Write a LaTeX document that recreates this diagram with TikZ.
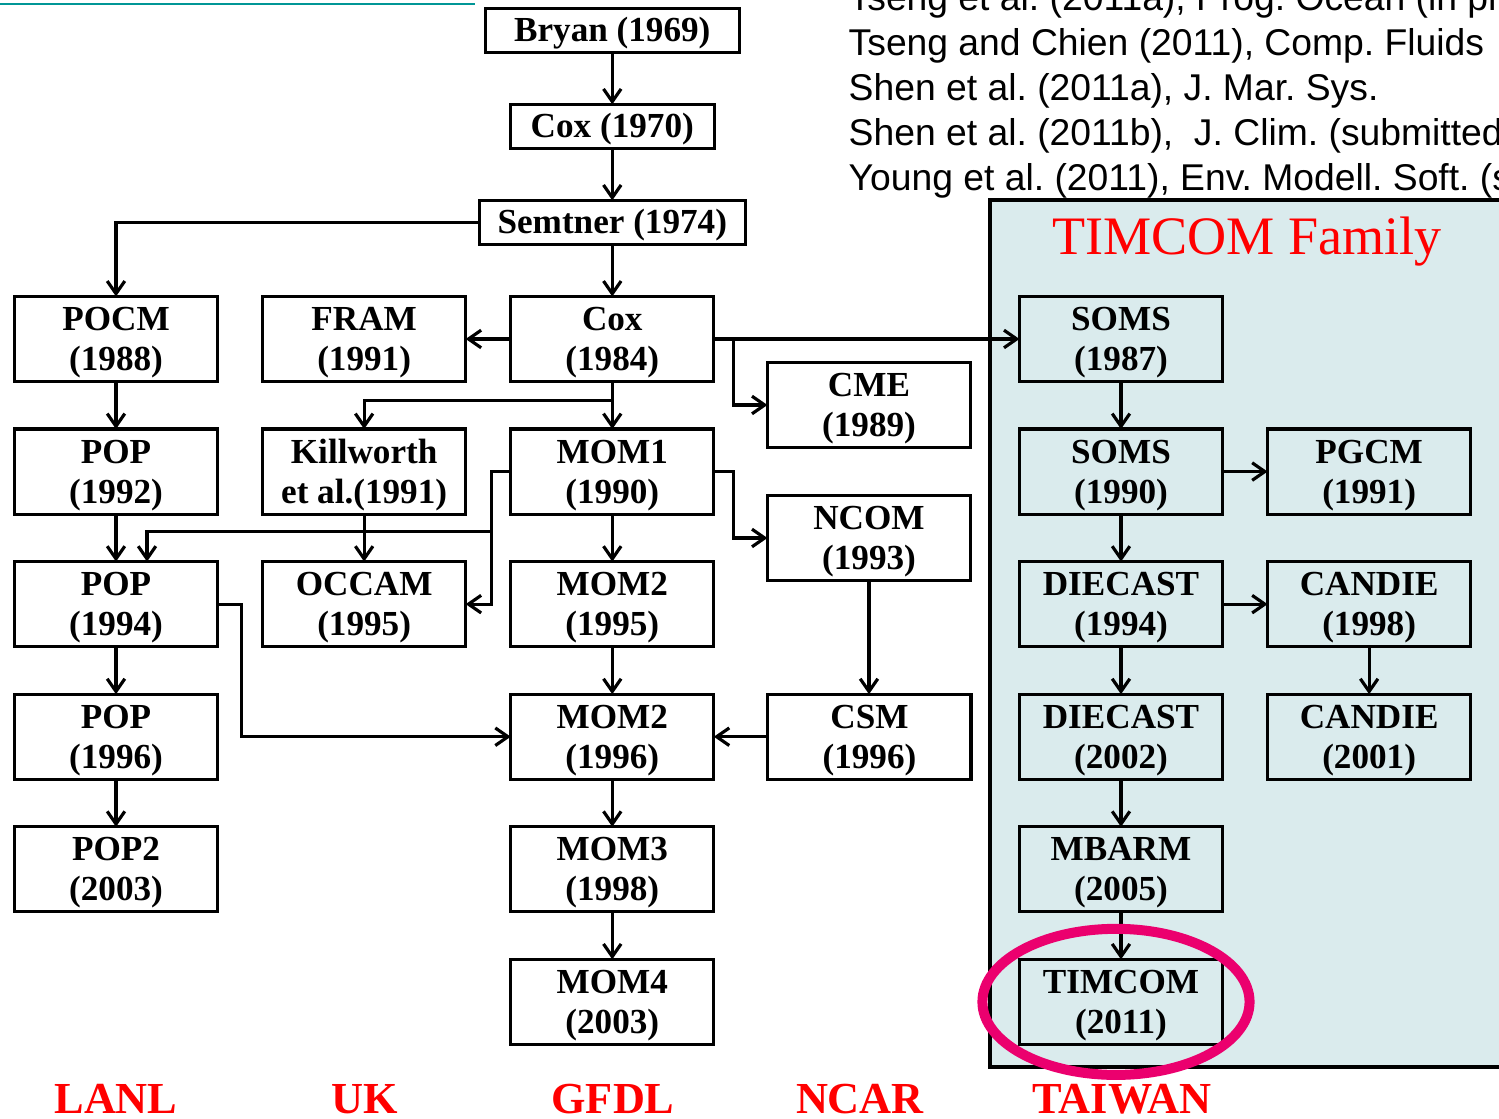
\documentclass[tikz,border=0pt]{standalone}
\usepackage{fontspec}
\setmainfont{Liberation Serif}
\newfontfamily\refsfont{Liberation Sans}
\usepackage{xcolor}
\usetikzlibrary{positioning, arrows.meta, calc}
\definecolor{timbg}{RGB}{218,235,237}
\definecolor{ringcol}{RGB}{235,0,110}
\definecolor{rulecol}{RGB}{0,150,150}
\frenchspacing

\begin{document}
\begin{tikzpicture}[
    x=0.01cm, y=-0.01cm,
    node distance=0.475cm and 0.45cm,
    box/.style={rectangle, draw, line width=0.9pt, outer sep=0pt, minimum width=2.03cm, minimum height=0.85cm, inner sep=0pt, text depth=-2.7pt, align=center, font=\bfseries\fontsize{10}{11.4}\selectfont},
    flat/.style={box, minimum height=0.44cm, text depth=0.4pt},
    arr/.style={-{Straight Barb[length=3.6pt, width=5pt]}, line width=0.9pt},
    region/.style={anchor=base, text=red, font=\bfseries\fontsize{12.6}{14}\selectfont},
    refline/.style={anchor=base west, inner sep=0pt, font=\refsfont\fontsize{10.6}{12.8}\selectfont}
]
    \clip (0,0) rectangle (1499,1119);
    \useasboundingbox (0,0) rectangle (1499,1119);

    % background panel
    \filldraw[fill=timbg, draw=black, line width=0.9pt] (990,200) rectangle (1530,1067);
    \node[anchor=base, text=red, font=\fontsize{15.4}{17}\selectfont] (family) at (1247,255) {TIMCOM Family};
    \draw[rulecol, line width=0.6pt] (0,4) -- (475,4);

    % references
    \node[refline] (ref1) at (848,11) {Tseng et al. (2011a), Prog. Ocean (in press)};
    \node[refline] (ref2) at (848,56) {Tseng and Chien (2011), Comp. Fluids};
    \node[refline] (ref3) at (848,101) {Shen et al. (2011a), J. Mar. Sys.};
    \node[refline] (ref4) at (848,146) {Shen et al. (2011b),\ \ J. Clim. (submitted)};
    \node[refline] (ref5) at (848,191) {Young et al. (2011), Env. Modell. Soft. (submitted)};

    % LANL
    \node[box] (pocm) at (116,339) {POCM\\(1988)};
    \node[box, below=of pocm] (pop92) {POP\\(1992)};
    \node[box, below=of pop92] (pop94) {POP\\(1994)};
    \node[box, below=of pop94] (pop96) {POP\\(1996)};
    \node[box, below=of pop96] (pop03) {POP2\\(2003)};

    % UK
    \node[box, right=of pocm] (fram) {FRAM\\(1991)};
    \node[box, below=of fram] (killworth) {Killworth\\et al.(1991)};
    \node[box, below=of killworth] (occam) {OCCAM\\(1995)};

    % GFDL
    \node[box, right=of fram] (cox84) {Cox\\(1984)};
    \node[flat, minimum width=2.66cm, above=0.52cm of cox84] (semtner) {Semtner (1974)};
    \node[flat, minimum width=2.04cm, above=0.52cm of semtner] (cox70) {Cox (1970)};
    \node[flat, minimum width=2.54cm, above=0.52cm of cox70] (bryan) {Bryan (1969)};
    \node[box, below=of cox84] (mom1) {MOM1\\(1990)};
    \node[box, below=of mom1] (mom2a) {MOM2\\(1995)};
    \node[box, below=of mom2a] (mom2b) {MOM2\\(1996)};
    \node[box, below=of mom2b] (mom3) {MOM3\\(1998)};
    \node[box, below=of mom3] (mom4) {MOM4\\(2003)};

    % NCAR
    \node[box] (cme) at (869,405) {CME\\(1989)};
    \node[box] (ncom) at (869,538) {NCOM\\(1993)};
    \node[box, right=0.54cm of mom2b] (csm) {CSM\\(1996)};

    % TAIWAN
    \node[box] (soms87) at (1121,339) {SOMS\\(1987)};
    \node[box, below=of soms87] (soms90) {SOMS\\(1990)};
    \node[box, below=of soms90] (die94) {DIECAST\\(1994)};
    \node[box, below=of die94] (die02) {DIECAST\\(2002)};
    \node[box, below=of die02] (mbarm) {MBARM\\(2005)};
    \node[box, below=of mbarm] (timcom) {TIMCOM\\(2011)};
    \node[box, right=of soms90] (pgcm) {PGCM\\(1991)};
    \node[box, right=of die94] (candie98) {CANDIE\\(1998)};
    \node[box, right=of die02] (candie01) {CANDIE\\(2001)};

    % group labels
    \node[region] (lanl) at (116,1114) {LANL};
    \node[region] (uk) at (365,1114) {UK};
    \node[region] (gfdl) at (613,1114) {GFDL};
    \node[region] (ncar) at (860,1114) {NCAR};
    \node[region] (taiwan) at (1122,1114) {TAIWAN};

    % connectors
    \draw[arr] (bryan) -- (cox70);
    \draw[arr] (cox70) -- (semtner);
    \draw[arr] (semtner) -- (cox84);
    \draw[arr] (semtner.west) -| (pocm.north);
    \draw[arr] (cox84) -- (fram);
    \draw[arr] (cox84) -- (soms87);
    \coordinate[right=0.2cm of cox84.east] (tap1);
    \draw[arr] (tap1) |- (cme.west);
    \draw[arr] (cox84) -- (mom1);
    \coordinate[below=0.19cm of cox84.south] (tap2);
    \draw[arr] (tap2) -| (killworth.north);
    \draw[arr] (mom1.east) -- ++(0.2cm,0) |- (ncom.west);
    \coordinate[left=0.19cm of mom1.west] (tap3);
    \draw[arr] (mom1.west) -- (tap3) |- (occam.east);
    \draw[arr] ($(tap3 |- occam.north)+(0,0.3cm)$) -| ($(pop94.north)+(0.31cm,0)$);
    \draw[arr] (killworth) -- (occam);
    \draw[arr] (pocm) -- (pop92);
    \draw[arr] (pop92) -- (pop94);
    \draw[arr] (pop94) -- (pop96);
    \draw[arr] (pop96) -- (pop03);
    \draw[arr] (pop94.east) -- ++(0.24cm,0) |- (mom2b.west);
    \draw[arr] (mom1) -- (mom2a);
    \draw[arr] (mom2a) -- (mom2b);
    \draw[arr] (mom2b) -- (mom3);
    \draw[arr] (mom3) -- (mom4);
    \draw[arr] (ncom.south) -- (ncom.south |- csm.north);
    \draw[arr] (csm) -- (mom2b);
    \draw[arr] (soms87) -- (soms90);
    \draw[arr] (soms90) -- (die94);
    \draw[arr] (die94) -- (die02);
    \draw[arr] (die02) -- (mbarm);
    \draw[arr] (mbarm) -- (timcom);
    \draw[arr] (soms90) -- (pgcm);
    \draw[arr] (die94) -- (candie98);
    \draw[arr] (candie98) -- (candie01);

    % highlight
    \draw[ringcol, line width=0.1cm] ($(timcom)+(-0.05cm,0)$) ellipse [x radius=1.335cm, y radius=0.73cm];
\end{tikzpicture}
\end{document}
